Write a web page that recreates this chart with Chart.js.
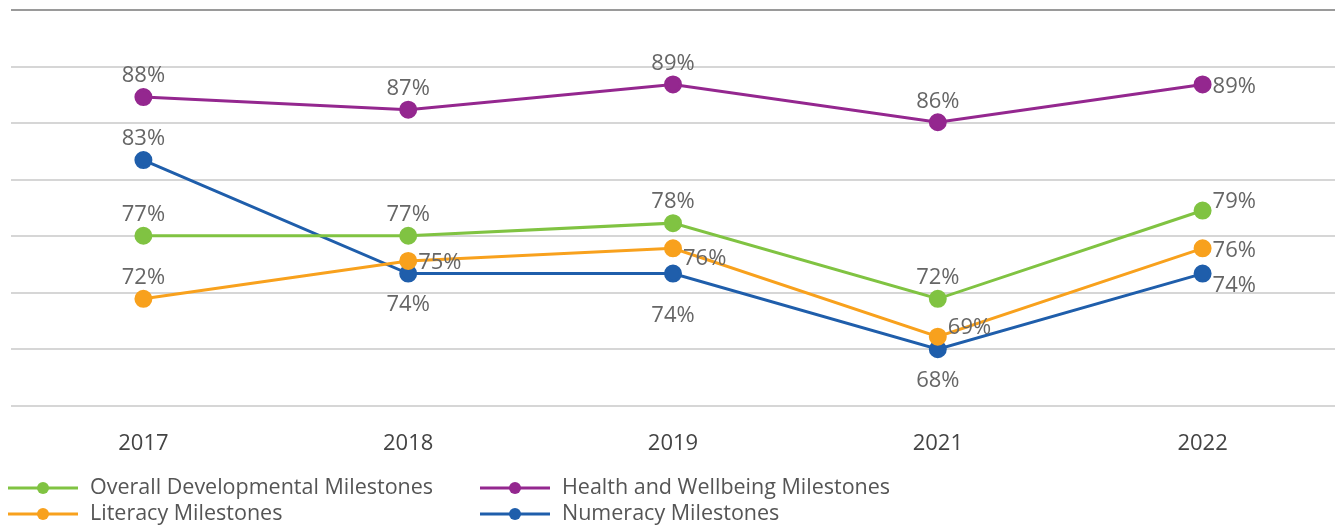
<!DOCTYPE html>
<html>
<head>
<meta charset="utf-8">
<script src="https://cdn.jsdelivr.net/npm/chart.js@4"></script>
<style>
  html, body { margin: 0; padding: 0; background: #fff; overflow: hidden; }
  canvas { display: block; }
</style>
</head>
<body>
<canvas id="my-chart" width="1335" height="527"></canvas>
<script>
const years = ['2017', '2018', '2019', '2021', '2022'];
const overall = [77, 77, 78, 72, 79];
const health = [88, 87, 89, 86, 89];
const literacy = [72, 75, 76, 69, 76];
const numeracy = [83, 74, 74, 68, 74];

// where each value label sits relative to its point
const overallPos = ['top', 'top', 'top', 'top', 'rightTop'];
const healthPos = ['top', 'top', 'top', 'top', 'right'];
const literacyPos = ['top', 'right', 'rightLow', 'rightTop', 'right'];
const numeracyPos = ['top', 'bottom', 'bottomFar', 'bottom', 'rightBottom'];

const FONT = '"Open Sans", "Noto Sans", sans-serif';

function series(label, data, color, pos) {
  return {
    label: label,
    data: data,
    borderColor: color,
    backgroundColor: color,
    borderWidth: 3,
    pointRadius: 7.5,
    pointHoverRadius: 7.5,
    tension: 0,
    labelPos: pos
  };
}

const valueLabels = {
  id: 'valueLabels',
  afterDatasetsDraw(chart) {
    const ctx = chart.ctx;
    ctx.save();
    ctx.font = '22px ' + FONT;
    ctx.fillStyle = '#666';
    chart.data.datasets.forEach((ds, i) => {
      chart.getDatasetMeta(i).data.forEach((pt, j) => {
        const text = ds.data[j] + '%';
        const p = ds.labelPos[j];
        let x = pt.x, y = pt.y;
        ctx.textAlign = 'center';
        ctx.textBaseline = 'middle';
        if (p === 'top') y -= 21;
        else if (p === 'bottom') y += 31;
        else if (p === 'bottomFar') y += 42;
        else {
          ctx.textAlign = 'left';
          x += 10;
          if (p === 'rightTop') y -= 9;
          else if (p === 'rightLow') y += 10;
          else if (p === 'rightBottom') y += 12;
          else y += 2;
        }
        ctx.fillText(text, x, y);
      });
    });
    ctx.restore();
  }
};

// two-column legend under the axis
const gridLegend = {
  id: 'gridLegend',
  afterDraw(chart) {
    const ctx = chart.ctx;
    const cols = [8, 480];
    const rows = [488, 514];
    ctx.save();
    ctx.font = '21.5px ' + FONT;
    ctx.textBaseline = 'middle';
    ctx.textAlign = 'left';
    chart.data.datasets.forEach((ds, i) => {
      const x = cols[i % 2], y = rows[Math.floor(i / 2)];
      ctx.strokeStyle = ds.borderColor;
      ctx.lineWidth = 3;
      ctx.beginPath();
      ctx.moveTo(x, y);
      ctx.lineTo(x + 70, y);
      ctx.stroke();
      ctx.fillStyle = ds.borderColor;
      ctx.beginPath();
      ctx.arc(x + 35, y, 6, 0, Math.PI * 2);
      ctx.fill();
      ctx.fillStyle = '#555';
      ctx.fillText(ds.label, x + 82, y);
    });
    ctx.restore();
  }
};

const ctx = document.getElementById('my-chart').getContext('2d');
new Chart(ctx, {
  type: 'line',
  data: {
    labels: years,
    datasets: [
      series('Overall Developmental Milestones', overall, '#80c342', overallPos),
      series('Health and Wellbeing Milestones', health, '#94278f', healthPos),
      series('Literacy Milestones', literacy, '#f8a11d', literacyPos),
      series('Numeracy Milestones', numeracy, '#1f5eab', numeracyPos)
    ]
  },
  options: {
    responsive: false,
    animation: false,
    layout: { autoPadding: false, padding: { left: 11, right: 0, top: 10, bottom: 67 } },
    plugins: {
      legend: { display: false },
      tooltip: { enabled: false }
    },
    scales: {
      x: {
        offset: true,
        grid: { display: false },
        border: { display: false },
        ticks: { color: '#444', font: { size: 22, family: FONT }, padding: 17 },
        afterFit(scale) { scale.height = 54; }
      },
      y: {
        min: 63.5,
        max: 94.9,
        border: { display: false },
        ticks: { display: false },
        grid: {
          drawTicks: false,
          lineWidth: 2,
          color: c => c.index === 7 ? '#9a9a9a' : '#d6d6d6'
        },
        afterBuildTicks(scale) {
          const t = [];
          for (let k = 0; k <= 7; k++) t.push({ value: 63.5 + k * (94.9 - 63.5) / 7 });
          scale.ticks = t;
        },
        afterFit(scale) { scale.width = 0; }
      }
    }
  },
  plugins: [valueLabels, gridLegend]
});
</script>
</body>
</html>
